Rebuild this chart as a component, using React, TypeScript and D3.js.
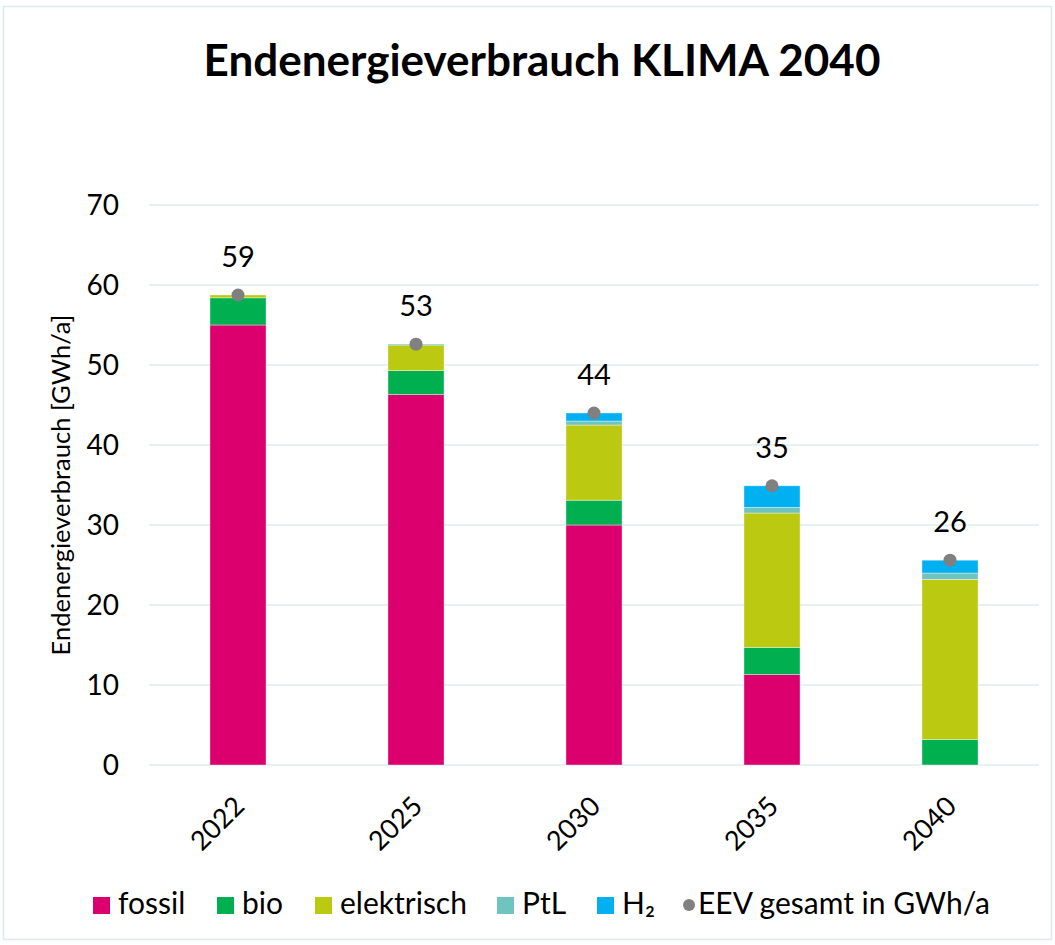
import React from "react";
import * as d3 from "d3";

const years = ["2022", "2025", "2030", "2035", "2040"];
const fossil = [55.0, 46.3, 30.0, 11.3, 0];
const bio = [3.4, 3.0, 3.1, 3.4, 3.2];
const elektrisch = [0.35, 3.2, 9.4, 16.8, 20.0];
const ptl = [0, 0, 0.5, 0.7, 0.8];
const h2 = [0, 0.1, 1.0, 2.7, 1.6];
const yTicks = [0, 10, 20, 30, 40, 50, 60, 70];

const seriesNames = ["fossil", "bio", "elektrisch", "PtL", "H₂"];
const seriesValues = [fossil, bio, elektrisch, ptl, h2];
const seriesColors = ["#DC006E", "#00B050", "#BBC910", "#70C4C0", "#00B0F0"];

const FONT = "Lato, 'Open Sans', sans-serif";

export default function App() {
  const W = 1055, H = 945;
  const y = d3.scaleLinear().domain([0, 70]).range([765, 205]);
  const x = d3.scaleBand().domain(years).range([149, 1039]).paddingInner(0.685).paddingOuter(0.3425);

  const rows = years.map((yr, i) => {
    const r: any = { year: yr };
    seriesNames.forEach((n, k) => (r[n] = seriesValues[k][i]));
    return r;
  });
  const stack = d3.stack().keys(seriesNames)(rows as any);
  const totals = years.map((_, i) => seriesValues.reduce((s, arr) => s + arr[i], 0));

  const legendText = [118, 242, 340, 522, 622];

  return (
    <svg width={W} height={H} style={{ position: "absolute", left: 0, top: 0 }} fontFamily={FONT}>
      <rect x={0} y={0} width={W} height={H} fill="#fff" />
      <rect x={3.5} y={6.5} width={1048} height={933} fill="#fff" stroke="#DDEBEB" strokeWidth={1.5} />
      <text x={542} y={76} textAnchor="middle" fontSize={44} fontWeight={700} fill="#000">
        Endenergieverbrauch KLIMA 2040
      </text>
      {yTicks.map((t) => (
        <g key={t}>
          <line x1={149} x2={1039} y1={y(t)} y2={y(t)} stroke="#E6F2F2" strokeWidth={2} />
          <text x={119} y={y(t)} dy="0.35em" textAnchor="end" fontSize={28} fill="#000">
            {t}
          </text>
        </g>
      ))}
      <text transform="translate(70,485) rotate(-90)" textAnchor="middle" fontSize={25.5} fill="#000">
        Endenergieverbrauch [GWh/a]
      </text>
      {stack.map((s, k) => (
        <g key={seriesNames[k]} fill={seriesColors[k]}>
          {s.map((d, i) =>
            d[1] - d[0] > 0 ? (
              <rect
                key={i}
                x={x(years[i])!}
                width={x.bandwidth()}
                y={y(d[1])}
                height={y(d[0]) - y(d[1])}
                stroke="#ffffff"
                strokeOpacity={0.5}
                strokeWidth={0.75}
              />
            ) : null
          )}
        </g>
      ))}
      {years.map((yr, i) => {
        const cx = x(yr)! + x.bandwidth() / 2;
        return (
          <g key={yr}>
            <circle cx={cx} cy={y(totals[i])} r={6.5} fill="#808080" />
            <text x={cx} y={y(totals[i]) - 28} textAnchor="middle" fontSize={29} fill="#000">
              {Math.round(totals[i])}
            </text>
            <text
              transform={`translate(${cx + 8},${808}) rotate(-45)`}
              textAnchor="end"
              fontSize={27}
              fill="#000"
            >
              {yr}
            </text>
          </g>
        );
      })}
      {seriesNames.map((n, k) => (
        <g key={n}>
          <rect x={legendText[k] - 25} y={897} width={17} height={17} fill={seriesColors[k]} />
          <text x={legendText[k]} y={914} fontSize={30} fill="#000">
            {n}
          </text>
        </g>
      ))}
      <circle cx={689} cy={905} r={6} fill="#808080" />
      <text x={698} y={914} fontSize={30} fill="#000">
        EEV gesamt in GWh/a
      </text>
    </svg>
  );
}
